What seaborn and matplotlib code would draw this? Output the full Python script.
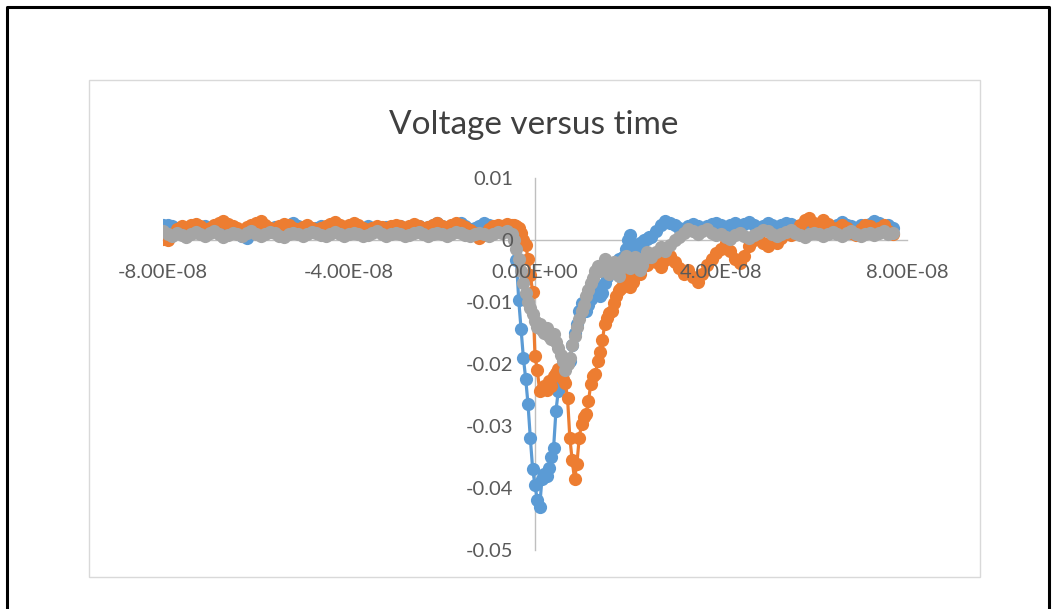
import numpy as np
import pandas as pd
import matplotlib
matplotlib.use("Agg")
import matplotlib.pyplot as plt
from matplotlib.patches import Rectangle
from matplotlib.lines import Line2D
import seaborn as sns

# sample times in ns: 1 ns steps on the flat parts, 0.5 ns through the pulse
t_left = np.arange(-80, -5, 1.0)
t_mid = np.arange(-5, 25, 0.5)
t_right = np.arange(25, 78, 1.0)

# voltages in mV
blue_left = [2.4, 2.5, 2.3, 2.0, 1.6, 1.8, 2.1, 1.7, 2.0, 2.2,
             1.8, 1.5, 2.0, 2.3, 1.9, 1.6, 1.2, 0.6, 0.3, 1.4,
             2.0, 2.2, 1.7, 1.9, 2.1, 1.6, 2.0, 2.4, 2.8, 2.3,
             1.8, 2.0, 1.5, 1.9, 2.2, 1.7, 2.1, 1.8, 1.6, 2.0,
             2.3, 1.9, 1.6, 2.0, 2.2, 1.8, 1.5, 1.9, 2.1, 1.7,
             2.0, 2.2, 1.8, 1.6, 2.0, 2.3, 1.9, 2.1, 2.5, 2.8,
             2.2, 1.9, 2.1, 2.5, 2.8, 2.2, 1.8, 2.0, 2.3, 2.8,
             2.4, 2.1, 2.3, 2.2, 2.4]
blue_mid = [2.2, 1.0, -3.2, -9.7, -14.3, -19.0, -22.4, -26.5, -32.0, -37.0,
            -39.5, -42.0, -43.0, -38.5, -37.7, -38.0, -36.8, -35.0, -33.5, -27.6,
            -24.4, -23.2, -21.0, -20.5, -19.8, -19.5, -17.0, -15.0, -13.5, -11.5,
            -10.2, -10.8, -11.5, -10.5, -9.5, -8.0, -7.2, -8.2, -9.0, -8.5,
            -7.0, -6.0, -5.0, -4.5, -4.0, -3.5, -3.0, -4.0, -2.8, -1.5,
            0.0, 0.8, -0.8, -1.5, -1.2, -0.5, -0.8, 0.0, 0.2, 0.5]
blue_right = [0.5, 1.5, 2.5, 3.0, 2.8, 2.5, 2.0, 1.8, 2.2, 2.6,
              2.3, 1.8, 2.2, 2.6, 2.8, 2.4, 2.0, 2.5, 2.8, 2.2,
              2.6, 2.9, 2.4, 2.0, 2.3, 2.7, 2.5, 2.1, 2.4, 2.8,
              2.6, 2.2, 2.0, 2.4, 2.1, 1.8, 2.2, 2.6, 2.3, 2.0,
              2.4, 2.9, 2.5, 2.2, 2.0, 2.4, 2.1, 2.6, 3.0, 2.7,
              2.2, 2.5, 2.0]

orange_left = [0.2, 0.0, 1.0, 1.8, 2.2, 2.0, 2.4, 2.6, 2.2, 1.8,
               2.0, 2.5, 2.8, 3.0, 2.6, 2.2, 2.0, 1.6, 2.1, 2.5,
               2.8, 3.0, 2.5, 2.0, 1.8, 2.2, 2.6, 2.4, 2.0, 1.7,
               2.1, 2.4, 2.0, 1.5, 1.9, 2.3, 2.6, 2.9, 2.5, 2.1,
               2.4, 2.8, 2.5, 2.0, 1.6, 2.0, 2.3, 2.1, 1.8, 2.2,
               2.5, 2.2, 1.9, 2.3, 2.6, 2.2, 1.8, 2.1, 2.4, 2.7,
               2.3, 2.0, 2.4, 2.7, 2.5, 2.1, 1.6, 1.2, 0.3, 0.8,
               1.8, 2.2, 2.5, 2.3, 2.6]
orange_mid = [2.4, 2.5, 2.3, 2.0, 1.2, 0.0, -0.8, -3.0, -5.7, -8.4,
              -18.7, -21.0, -24.4, -24.0, -23.5, -24.2, -22.7, -23.5, -22.0, -21.5,
              -20.8, -21.5, -22.4, -23.0, -25.5, -32.0, -35.5, -38.6, -36.2, -32.0,
              -29.7, -28.5, -28.0, -26.0, -23.2, -22.0, -21.6, -19.5, -18.0, -16.2,
              -13.5, -12.5, -11.8, -11.4, -10.2, -9.0, -8.0, -7.8, -6.5, -6.0,
              -6.5, -7.5, -6.8, -5.5, -4.8, -5.5, -4.2, -3.5, -4.0, -3.2]
orange_right = [-3.0, -3.5, -4.4, -3.2, -2.5, -3.5, -4.5, -5.5, -4.8, -6.0,
                -6.8, -5.5, -4.0, -3.0, -2.1, -1.5, -0.5, -1.8, -3.0, -3.7,
                -2.5, -1.0, 0.0, 0.5, -0.5, -1.0, 0.0, -0.5, 0.3, 1.2,
                0.8, 1.5, 2.4, 3.2, 3.5, 2.8, 2.5, 3.2, 2.6, 1.8,
                2.0, 2.5, 2.0, 1.2, 0.8, 1.8, 2.5, 2.2, 1.6, 2.0,
                2.4, 1.5, 1.0]

gray_left = [1.5, 1.0, 0.7, 1.2, 0.8, 0.5, 1.0, 1.3, 0.9, 0.6,
             1.1, 1.4, 0.9, 0.5, 0.8, 1.2, 1.0, 0.7, 1.1, 1.4,
             1.0, 0.6, 0.9, 1.3, 1.1, 0.7, 0.5, 0.9, 1.2, 1.0,
             0.6, 0.9, 1.3, 1.1, 0.8, 0.6, 1.0, 1.3, 1.0, 0.7,
             0.9, 1.2, 1.0, 0.6, 0.8, 1.1, 1.4, 1.0, 0.7, 0.9,
             1.2, 1.0, 0.6, 0.8, 1.1, 1.3, 0.9, 0.6, 0.9, 1.2,
             1.0, 0.7, 1.0, 1.3, 1.1, 0.8, 0.6, 0.9, 1.2, 1.0,
             0.7, 1.0, 1.3, 1.2, 1.4]
gray_mid = [1.0, 0.0, -1.5, -3.0, -5.0, -7.0, -8.5, -10.0, -11.0, -12.0,
            -13.0, -14.0, -13.5, -14.5, -15.0, -14.2, -15.5, -16.0, -15.2, -16.5,
            -17.4, -18.5, -19.5, -21.0, -20.0, -19.0, -17.0, -15.5, -14.0, -12.8,
            -11.5, -10.5, -9.0, -8.0, -7.0, -6.2, -5.0, -4.2, -5.0, -4.0,
            -3.0, -4.2, -5.5, -4.5, -3.5, -4.8, -5.8, -4.5, -3.2, -2.5,
            -3.5, -4.5, -3.6, -2.8, -3.8, -4.8, -4.0, -3.0, -2.0, -2.5]
gray_right = [-2.8, -2.0, -1.2, -1.8, -0.8, 0.0, 0.5, 1.2, 1.8, 1.5,
              1.0, 1.4, 1.8, 1.2, 0.8, 1.0, 0.5, 0.2, 0.8, 1.2,
              0.6, 0.3, 0.8, 1.2, 1.6, 1.4, 1.0, 0.6, 0.9, 1.3,
              1.6, 1.2, 0.8, 0.5, 0.9, 1.2, 1.0, 0.6, 0.9, 1.3,
              1.0, 0.7, 1.1, 1.4, 1.0, 0.6, 0.9, 1.2, 0.8, 1.1,
              1.4, 0.9, 1.2]

series_names = ["Series1", "Series2", "Series3"]
series_colors = ["#5B9BD5", "#ED7D31", "#A5A5A5"]

x_ticks = [-8e-8, -4e-8, 0, 4e-8, 8e-8]
x_tick_labels = ["-8.00E-08", "-4.00E-08", "0.00E+00", "4.00E-08", "8.00E-08"]
y_ticks = [0.01, 0, -0.01, -0.02, -0.03, -0.04, -0.05]
y_tick_labels = ["0.01", "0", "-0.01", "-0.02", "-0.03", "-0.04", "-0.05"]

t_ns = np.concatenate([t_left, t_mid, t_right])
frames = []
for name, parts in zip(series_names, [(blue_left, blue_mid, blue_right),
                                      (orange_left, orange_mid, orange_right),
                                      (gray_left, gray_mid, gray_right)]):
    mv = np.concatenate([np.array(p) for p in parts])
    frames.append(pd.DataFrame({"time": t_ns * 1e-9, "voltage": mv / 1000.0, "series": name}))
df = pd.concat(frames, ignore_index=True)

sns.set_style("white")
plt.rcParams["font.family"] = ["Lato", "DejaVu Sans"]

W, H = 1052, 609
fig = plt.figure(figsize=(W / 100, H / 100), dpi=100)
ax = fig.add_axes([163 / W, 1 - 550 / H, (907 - 163) / W, (550 - 178) / H])

sns.lineplot(data=df, x="time", y="voltage", hue="series", hue_order=series_names,
             palette=series_colors, marker="o", estimator=None, sort=False,
             legend=False, ax=ax)
# excel-like heavy markers
for line in ax.lines:
    line.set_markersize(9.5)
    line.set_markeredgewidth(0)
    line.set_linewidth(2.3)

ax.set_xlim(-8e-8, 8e-8)
ax.set_ylim(-0.05, 0.01)
ax.set_xticks(x_ticks, labels=x_tick_labels)
ax.set_yticks(y_ticks, labels=y_tick_labels)
ax.set_xlabel("")
ax.set_ylabel("")
ax.set_facecolor("none")

for side in ["top", "right"]:
    ax.spines[side].set_visible(False)
ax.spines["left"].set_position(("data", 0))
ax.spines["bottom"].set_position(("data", 0))
for side in ["left", "bottom"]:
    ax.spines[side].set_color("#BFBFBF")
    ax.spines[side].set_linewidth(1.0)
    ax.spines[side].set_zorder(1)
ax.set_axisbelow(False)
ax.tick_params(axis="x", length=0, pad=17, labelsize=14.5, colors="#595959")
ax.tick_params(axis="y", length=0, pad=16, labelsize=14.5, colors="#595959")

fig.text(534 / W, 1 - 125 / H, "Voltage versus time", ha="center", va="center",
         fontsize=24, color="#404040")

# chart area frame and outer black border
fig.add_artist(Rectangle((89 / W, 1 - 577 / H), (980 - 89) / W, (577 - 80) / H,
                         transform=fig.transFigure, fill=False, edgecolor="#D9D9D9", lw=1))
fig.add_artist(Line2D([6.5 / W, 6.5 / W, 1049 / W, 1049 / W], [0, 1 - 6.5 / H, 1 - 6.5 / H, 0],
                      transform=fig.transFigure, color="black", lw=2.2))

fig.savefig("out.png", dpi=100)
